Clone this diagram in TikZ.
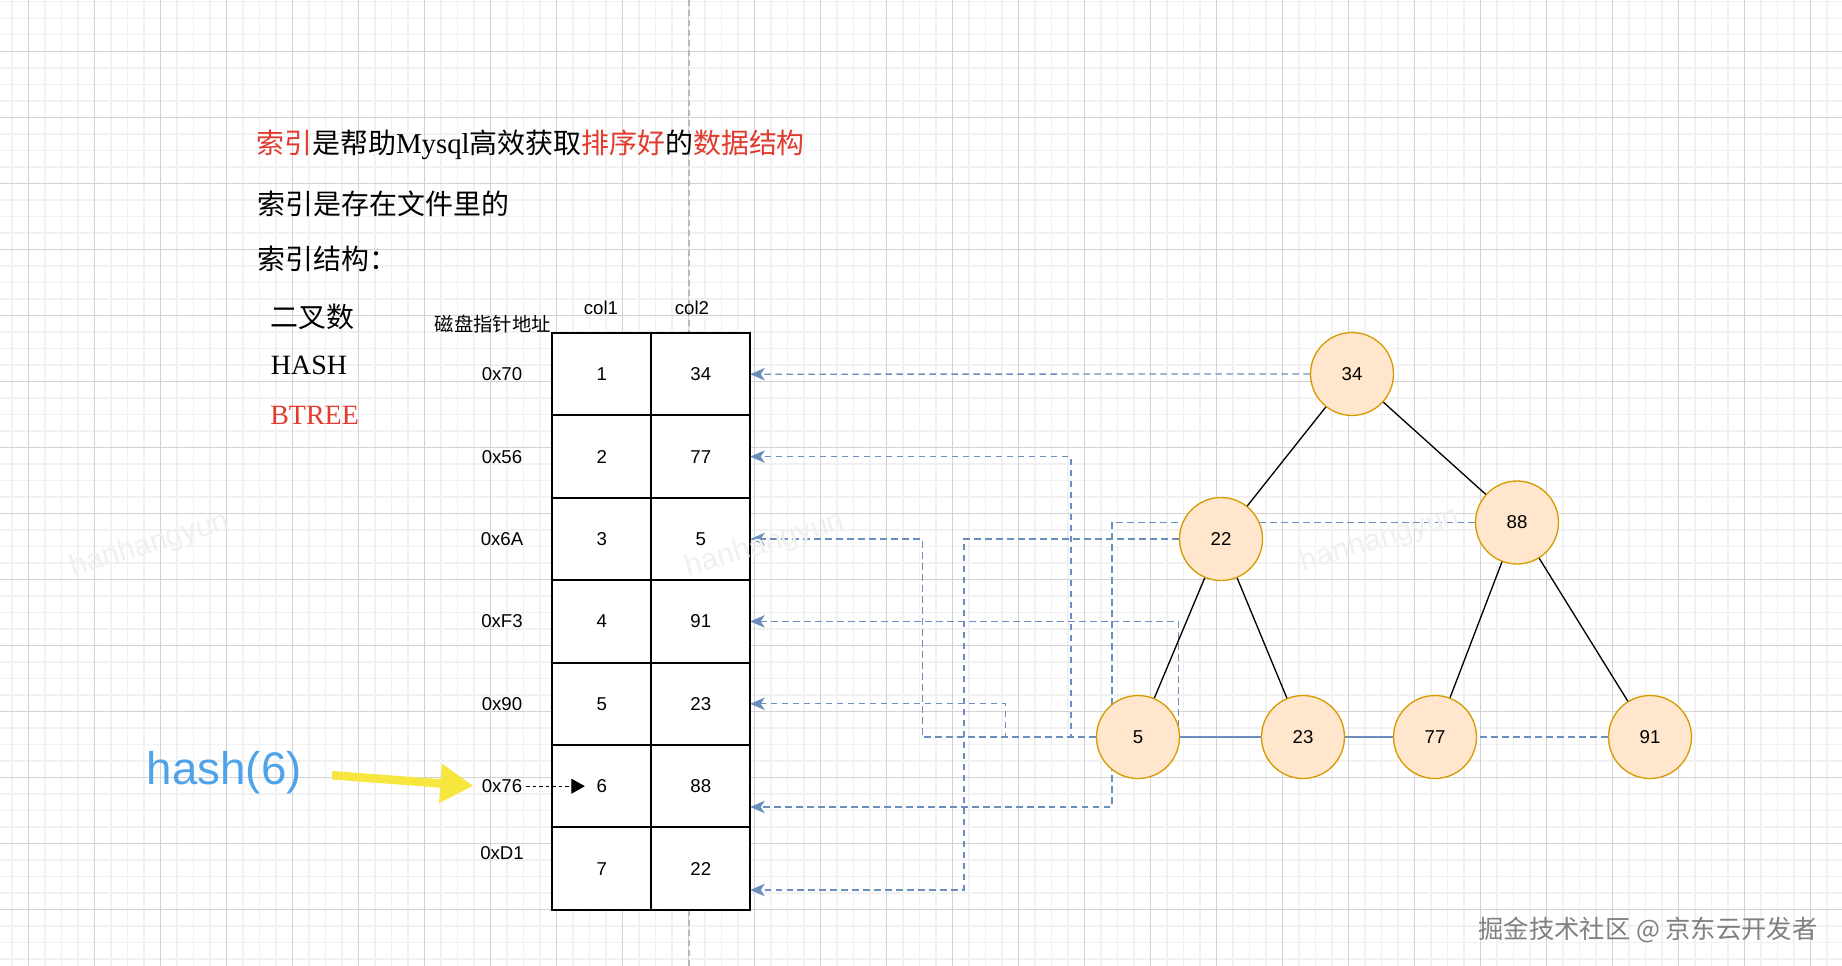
\documentclass[tikz,border=0pt]{standalone}
\usepackage{fontspec}
\setmainfont{Liberation Serif}
\setsansfont{Liberation Sans}
\newfontfamily\cjk{Noto Sans CJK SC}
\usepackage{xcolor}
\usetikzlibrary{arrows.meta, positioning}
\definecolor{idxred}{RGB}{226,58,44}
\definecolor{hashblue}{RGB}{78,163,235}
\definecolor{arrowyellow}{RGB}{246,230,62}
\definecolor{linkblue}{RGB}{108,142,191}
\definecolor{nodefill}{RGB}{255,230,204}
\definecolor{nodeline}{RGB}{215,155,0}
\definecolor{gridmajor}{RGB}{210,210,210}
\definecolor{gridminor}{RGB}{241,241,241}
\pgfdeclarelayer{grid}
\pgfdeclarelayer{bg}
\pgfsetlayers{grid,bg,main}

\begin{document}
\begin{tikzpicture}[
        x=0.02cm, y=-0.02cm,
        title/.style={anchor=west, inner sep=0pt, font=\cjk\fontsize{15.9}{18}\selectfont},
        latin/.style={anchor=west, inner sep=0pt, font=\rmfamily\fontsize{15.9}{18}\selectfont},
        cell/.style={rectangle, draw, line width=1.1pt, fill=white, minimum width=1.98cm, minimum height=1.648cm, inner sep=0pt, outer sep=0pt, font=\sffamily\fontsize{10.6}{12}\selectfont},
        addr/.style={inner sep=2pt, font=\sffamily\fontsize{10.6}{12}\selectfont},
        key/.style={circle, draw=nodeline, fill=nodefill, line width=0.75pt, minimum size=1.66cm, inner sep=0pt, font=\sffamily\fontsize{10.6}{12}\selectfont},
        edge/.style={line width=0.75pt},
        link/.style={-{Stealth[length=0.29cm, width=0.25cm, inset=0.08cm]}, draw=linkblue, line width=0.75pt, dash pattern=on 0.13cm off 0.09cm},
        ptr/.style={-{Triangle[length=0.27cm, width=0.3cm]}, line width=0.6pt, dash pattern=on 0.07cm off 0.06cm},
        fat/.style={-{Triangle[length=0.66cm, width=0.74cm]}, draw=arrowyellow, line width=0.17cm},
        minorline/.style={draw=gridminor, line width=0.8pt},
        majorline/.style={draw=gridmajor, line width=0.65pt},
        pagebreak/.style={draw=black!28, line width=1.1pt, dash pattern=on 0.12cm off 0.08cm},
        wmark/.style={text=black!6, rotate=17, font=\sffamily\fontsize{17}{20}\selectfont},
        node distance=0pt
    ]
        \useasboundingbox (0,0) rectangle (1842,966);

        % background grid
        \begin{pgfonlayer}{grid}
            \fill[white] (0,0) rectangle (1842,966);
            \foreach \i in {0,...,111} \draw[minorline] ({11.8+16.5*\i},0) -- ({11.8+16.5*\i},966);
            \foreach \j in {0,...,58} \draw[minorline] (0,{1.8+16.5*\j}) -- (1842,{1.8+16.5*\j});
            \foreach \i in {0,...,27} \draw[majorline] ({28.3+66*\i},0) -- ({28.3+66*\i},966);
            \foreach \j in {0,...,13} \draw[majorline] (0,{51.3+66*\j}) -- (1842,{51.3+66*\j});
            \draw[pagebreak] (689.3,0) -- (689.3,966);
        \end{pgfonlayer}

        % text block
        \node[title] (t1) at (256,145) {\textcolor{idxred}{索引}是帮助{\rmfamily\fontsize{16.4}{18}\selectfont Mysql}高效获取\textcolor{idxred}{排序好}的\textcolor{idxred}{数据结构}};
        \node[title] (t2) at (257.5,204) {索引是存在文件里的};
        \node[title] (t3) at (257,259) {索引结构：};
        \node[title] (s1) at (270,316.7) {二叉数};
        \node[latin] (s2) at (270.6,365.7) {HASH};
        \node[latin, text=idxred] (s3) at (270,415) {BTREE};

        % table
        \node[addr] (h1) at (601,308) {col1};
        \node[addr] (h2) at (692,308) {col2};
        \node[anchor=east, inner sep=0pt, font=\cjk\fontsize{11}{13}\selectfont] (disk) at (551,324) {磁盘指针地址};
        \foreach \k/\v [count=\r] in {1/34, 2/77, 3/5, 4/91, 5/23, 6/88, 7/22} {
            \node[cell] (k\r) at (601.8,{291.8+82.4*\r}) {\k};
            \node[cell, right=of k\r] (v\r) {\v};
        }
        \foreach \a/\dy [count=\r] in {0x70/0, 0x56/0, 0x6A/0, 0xF3/0, 0x90/0, 0x76/0, 0xD1/-16}
            \node[addr] (a\r) at (502,{291.8+82.4*\r+\dy}) {\a};

        % hash lookup
        \node[inner sep=0pt, text=hashblue, font=\sffamily\fontsize{26}{30}\selectfont] (hash) at (224.4,773) {hash(6)};
        \draw[fat, shorten <=0.6cm, shorten >=0.09cm] (hash.east) -- (a6.west);
        \draw[ptr, shorten >=0.34cm] (a6.east) -- (k6.center);

        % tree
        \node[key] (n34) at (1352,374) {34};
        \node[key] (n22) at (1221,539) {22};
        \node[key] (n88) at (1517,522.5) {88};
        \node[key] (n5) at (1138,737) {5};
        \node[key] (n23) at (1303,737) {23};
        \node[key] (n77) at (1435,737) {77};
        \node[key] (n91) at (1650,737) {91};

        \draw[edge] (n34) -- (n22);
        \draw[edge] (n34) -- (n88);
        \draw[edge] (n22) -- (n5);
        \draw[edge] (n22) -- (n23);
        \draw[edge] (n88) -- (n77);
        \draw[edge] (n88) -- (n91);

        % pointers back to the rows
        \begin{pgfonlayer}{bg}
            \draw[link] (n34.west) -- (v1.east);
            \draw[link] (n77.west) -- ++(-322,0) |- (v2.east);
            \draw[link] (n5.west) -- ++(-173.5,0) |- (v3.east);
            \draw[link] (n91.west) -- ++(-429.5,0) |- (v4.east);
            \draw[link] (n23.west) -- ++(-255.4,0) |- (v5.east);
            \draw[link] (n88.west) -- ++(-363,0) |- ([yshift=-0.416cm]v6.east);
            \draw[link] (n22.west) -- ++(-215,0) |- ([yshift=-0.428cm]v7.east);
        \end{pgfonlayer}

        % watermarks
        \node[wmark] (w1) at (150,545) {hanhangyun};
        \node[wmark] (w2) at (765,545) {hanhangyun};
        \node[wmark] (w3) at (1380,540) {hanhangyun};
        \node[text=black!50, font=\cjk\fontsize{14.4}{17}\selectfont] (jj) at (1648,930) {掘金技术社区 @ 京东云开发者};
    \end{tikzpicture}
\end{document}
